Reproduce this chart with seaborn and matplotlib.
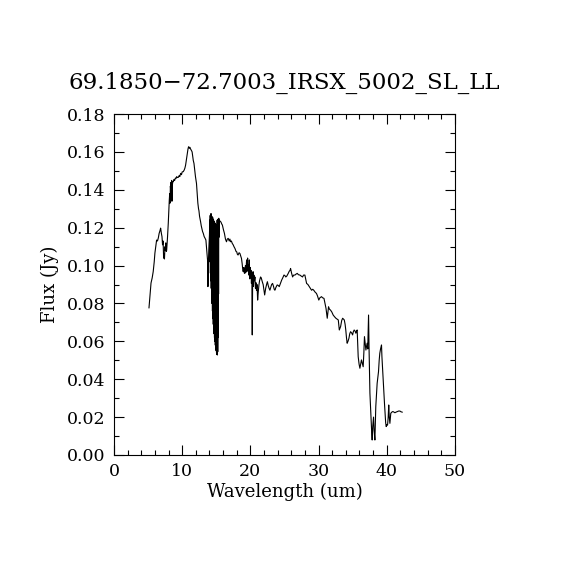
import numpy as np
import pandas as pd
import seaborn as sns
import matplotlib
matplotlib.use("Agg")
import matplotlib.pyplot as plt
from matplotlib.ticker import MultipleLocator, FormatStrFormatter

title = "69.1850\u221272.7003_IRSX_5002_SL_LL"

wave = [
    5.13, 5.25, 5.43, 5.60, 5.75, 5.90, 6.00, 6.12, 6.25, 6.38, 6.50, 6.62, 6.75, 6.84, 6.95,
    7.04, 7.12, 7.20, 7.28, 7.33, 7.40, 7.48, 7.53, 7.60, 7.66, 7.72, 7.85, 7.96, 8.05, 8.11,
    8.17, 8.22, 8.27, 8.31, 8.36, 8.40, 8.45, 8.50, 8.55, 8.62, 8.70, 8.80, 8.90, 9.00, 9.09,
    9.20, 9.30, 9.43, 9.55, 9.65, 9.77, 9.90, 10.00, 10.16, 10.30, 10.40, 10.50, 10.60, 10.68,
    10.75, 10.85, 10.94, 11.05, 11.12, 11.20, 11.30, 11.40, 11.46, 11.55, 11.63, 11.73, 11.85,
    11.95, 12.05, 12.10, 12.20, 12.30, 12.40, 12.46, 12.55, 12.63, 12.70, 12.80, 12.90, 12.99,
    13.10, 13.23, 13.35, 13.48, 13.60, 13.72, 13.78, 13.84, 13.90, 14.00,
    14.05, 14.08, 14.11, 14.14, 14.17, 14.20, 14.23, 14.26, 14.29, 14.32, 14.35, 14.38, 14.41,
    14.44, 14.47, 14.50, 14.53, 14.56, 14.59, 14.62, 14.65, 14.68, 14.71, 14.74, 14.77, 14.80,
    14.83, 14.86, 14.89, 14.92, 14.95, 14.98, 15.01, 15.04, 15.07, 15.10, 15.13, 15.16, 15.19,
    15.22, 15.25, 15.28, 15.31, 15.34, 15.37, 15.40, 15.45,
    15.55, 15.69, 15.80, 15.90, 16.05, 16.20, 16.35, 16.50, 16.62, 16.75, 16.90, 17.00, 17.10,
    17.22, 17.35, 17.48, 17.60, 17.75, 17.90, 18.00, 18.10, 18.20, 18.35, 18.47, 18.60, 18.70,
    18.80, 18.90, 18.96, 19.05, 19.12, 19.20, 19.28, 19.35, 19.45, 19.52, 19.60, 19.66, 19.70,
    19.78, 19.85, 19.92, 20.00, 20.04, 20.10, 20.16, 20.22, 20.28, 20.34, 20.40, 20.46, 20.52,
    20.60, 20.67, 20.75, 20.82, 20.90, 20.98, 21.07, 21.16, 21.26, 21.35, 21.50, 21.60, 21.75,
    21.88, 22.00, 22.10, 22.25, 22.38, 22.50, 22.62, 22.75, 22.87, 23.00, 23.12, 23.26, 23.40,
    23.50, 23.60, 23.75, 23.94, 24.10, 24.24, 24.40, 24.60, 24.75, 24.93, 25.05, 25.20, 25.35,
    25.56, 25.70, 25.82, 25.90, 26.05, 26.20, 26.35, 26.54, 26.70, 26.88, 27.05, 27.27, 27.45,
    27.66, 27.80, 28.00, 28.12, 28.25, 28.45, 28.64, 28.80, 28.98, 29.15, 29.30, 29.50, 29.70,
    29.85, 30.04, 30.20, 30.44, 30.60, 30.80, 30.95, 31.10, 31.28, 31.47, 31.60, 31.76, 31.95,
    32.15, 32.35, 32.55, 32.70, 32.90, 33.05, 33.24, 33.40, 33.54, 33.65, 33.78, 33.90, 34.00,
    34.10, 34.20, 34.32, 34.46, 34.58, 34.70, 34.85, 35.00, 35.10, 35.23, 35.35, 35.48, 35.58,
    35.67, 35.74, 35.82, 35.95, 36.07, 36.18, 36.30, 36.42, 36.55, 36.65, 36.74, 36.85, 36.95,
    37.05, 37.13, 37.22, 37.34, 37.42, 37.54, 37.67, 37.80, 37.87, 37.95, 38.07, 38.15, 38.27,
    38.35, 38.40, 38.50, 38.60, 38.70, 38.80, 38.90, 38.99, 39.10, 39.24, 39.30, 39.38, 39.50,
    39.60, 39.68, 39.77, 39.85, 39.93, 40.03, 40.13, 40.22, 40.30, 40.38, 40.47, 40.55, 40.60,
    40.72, 40.85, 41.00, 41.20, 41.35, 41.54, 41.75, 41.94, 42.10, 42.30,
]

flux = [
    0.0776, 0.0830, 0.0908, 0.0935, 0.0968, 0.1020, 0.1066, 0.1100, 0.1135, 0.1130, 0.1146, 0.1170, 0.1185, 0.1198, 0.1170,
    0.1153, 0.1110, 0.1130, 0.1040, 0.1060, 0.1035, 0.1100, 0.1080, 0.1120, 0.1075, 0.1080, 0.1150, 0.1223, 0.1300, 0.1346,
    0.1380, 0.1330, 0.1420, 0.1400, 0.1440, 0.1360, 0.1450, 0.1340, 0.1420, 0.1445, 0.1443, 0.1455, 0.1450, 0.1462, 0.1460,
    0.1470, 0.1465, 0.1466, 0.1475, 0.1470, 0.1487, 0.1480, 0.1495, 0.1496, 0.1505, 0.1515, 0.1530, 0.1555, 0.1575,
    0.1590, 0.1615, 0.1628, 0.1620, 0.1625, 0.1618, 0.1612, 0.1605, 0.1600, 0.1575, 0.1555, 0.1540, 0.1500,
    0.1470, 0.1445, 0.1434, 0.1380, 0.1330, 0.1300, 0.1290, 0.1260, 0.1245, 0.1232, 0.1210, 0.1195, 0.1180,
    0.1170, 0.1153, 0.1145, 0.1135, 0.1080, 0.1030, 0.0889, 0.1000, 0.1080, 0.1160,
    0.1240, 0.1020, 0.1265, 0.0960, 0.1250, 0.0920, 0.1275, 0.0880, 0.1240, 0.0850, 0.1260, 0.0800, 0.1230,
    0.0760, 0.1255, 0.0720, 0.1220, 0.0690, 0.1245, 0.0660, 0.1210, 0.0640, 0.1235, 0.0620, 0.1200, 0.0600,
    0.1225, 0.0580, 0.1190, 0.0560, 0.1215, 0.0550, 0.1180, 0.0540, 0.1200, 0.0530, 0.1240, 0.0528, 0.1210,
    0.0545, 0.1245, 0.0620, 0.1220, 0.0850, 0.1250, 0.1150, 0.1240,
    0.1235, 0.1230, 0.1220, 0.1214, 0.1190, 0.1170, 0.1140, 0.1126, 0.1140, 0.1144, 0.1130, 0.1140, 0.1126,
    0.1130, 0.1117, 0.1110, 0.1100, 0.1090, 0.1075, 0.1073, 0.1060, 0.1056, 0.1068, 0.1064, 0.1050, 0.1038,
    0.1010, 0.0975, 0.0968, 0.0990, 0.0960, 0.0959, 0.1000, 0.0965, 0.1030, 0.0970, 0.1040, 0.0975, 0.1003,
    0.0950, 0.1030, 0.0930, 0.0990, 0.0950, 0.0975, 0.0906, 0.0960, 0.0634, 0.0940, 0.0968, 0.0890, 0.0950,
    0.0920, 0.0940, 0.0880, 0.0910, 0.0870, 0.0900, 0.0818, 0.0860, 0.0898, 0.0920, 0.0940, 0.0935, 0.0915,
    0.0900, 0.0870, 0.0845, 0.0880, 0.0900, 0.0915, 0.0895, 0.0880, 0.0870, 0.0885, 0.0900, 0.0906, 0.0890,
    0.0875, 0.0870, 0.0885, 0.0898, 0.0895, 0.0889, 0.0905, 0.0924, 0.0935, 0.0950, 0.0948, 0.0940, 0.0945,
    0.0959, 0.0970, 0.0975, 0.0985, 0.0960, 0.0940, 0.0950, 0.0950, 0.0955, 0.0959, 0.0952, 0.0950, 0.0945,
    0.0940, 0.0950, 0.0950, 0.0930, 0.0906, 0.0900, 0.0889, 0.0880, 0.0870, 0.0875, 0.0870, 0.0860, 0.0853,
    0.0840, 0.0818, 0.0830, 0.0836, 0.0830, 0.0827, 0.0800, 0.0774, 0.0722, 0.0783, 0.0770, 0.0765, 0.0755,
    0.0739, 0.0730, 0.0722, 0.0718, 0.0713, 0.0660, 0.0678, 0.0710, 0.0722, 0.0718, 0.0713, 0.0690, 0.0660,
    0.0620, 0.0590, 0.0600, 0.0616, 0.0640, 0.0651, 0.0645, 0.0634, 0.0650, 0.0660, 0.0655, 0.0643, 0.0655,
    0.0660, 0.0600, 0.0519, 0.0480, 0.0458, 0.0480, 0.0502, 0.0485, 0.0466, 0.0540, 0.0625, 0.0590, 0.0554,
    0.0575, 0.0590, 0.0560, 0.0739, 0.0550, 0.0326, 0.0220, 0.0120, 0.0079, 0.0150, 0.0200, 0.0130, 0.0079,
    0.0180, 0.0255, 0.0320, 0.0378, 0.0410, 0.0440, 0.0500, 0.0537, 0.0560, 0.0581, 0.0520, 0.0466, 0.0380,
    0.0326, 0.0270, 0.0220, 0.0170, 0.0150, 0.0160, 0.0158, 0.0200, 0.0264, 0.0200, 0.0167, 0.0200, 0.0220,
    0.0225, 0.0229, 0.0228, 0.0223, 0.0226, 0.0229, 0.0232, 0.0232, 0.0228, 0.0226,
]

df = pd.DataFrame({"wave": wave, "flux": flux})

sns.set_style("ticks")
plt.rcParams["font.family"] = ["DejaVu Serif"]
plt.rcParams["text.color"] = "black"
plt.rcParams["axes.labelcolor"] = "black"

fig = plt.figure(figsize=(5.7, 5.7), dpi=100)
ax = fig.add_axes([0.2, 0.2018, 0.598, 0.598])

sns.lineplot(data=df, x="wave", y="flux", sort=False, estimator=None,
             color="black", linewidth=0.8, ax=ax)

ax.set_xlim(0, 50)
ax.set_ylim(0, 0.18)
ax.xaxis.set_major_locator(MultipleLocator(10))
ax.xaxis.set_minor_locator(MultipleLocator(2))
ax.yaxis.set_major_locator(MultipleLocator(0.02))
ax.yaxis.set_minor_locator(MultipleLocator(0.01))
ax.yaxis.set_major_formatter(FormatStrFormatter("%.2f"))

ax.tick_params(which="both", direction="in", top=True, right=True,
               colors="black", labelcolor="black", width=0.8, labelsize=12.5)
ax.tick_params(which="major", length=7, pad=6)
ax.tick_params(which="minor", length=3.5)
for s in ax.spines.values():
    s.set_linewidth(0.8)
    s.set_color("black")

ax.set_xlabel("Wavelength (um)", fontsize=13, labelpad=2, color="black")
ax.set_ylabel("Flux (Jy)", fontsize=13, labelpad=6, color="black")
ax.set_title(title, fontsize=16.5, pad=18, color="black")

fig.savefig("out.png", dpi=100, facecolor="white")
